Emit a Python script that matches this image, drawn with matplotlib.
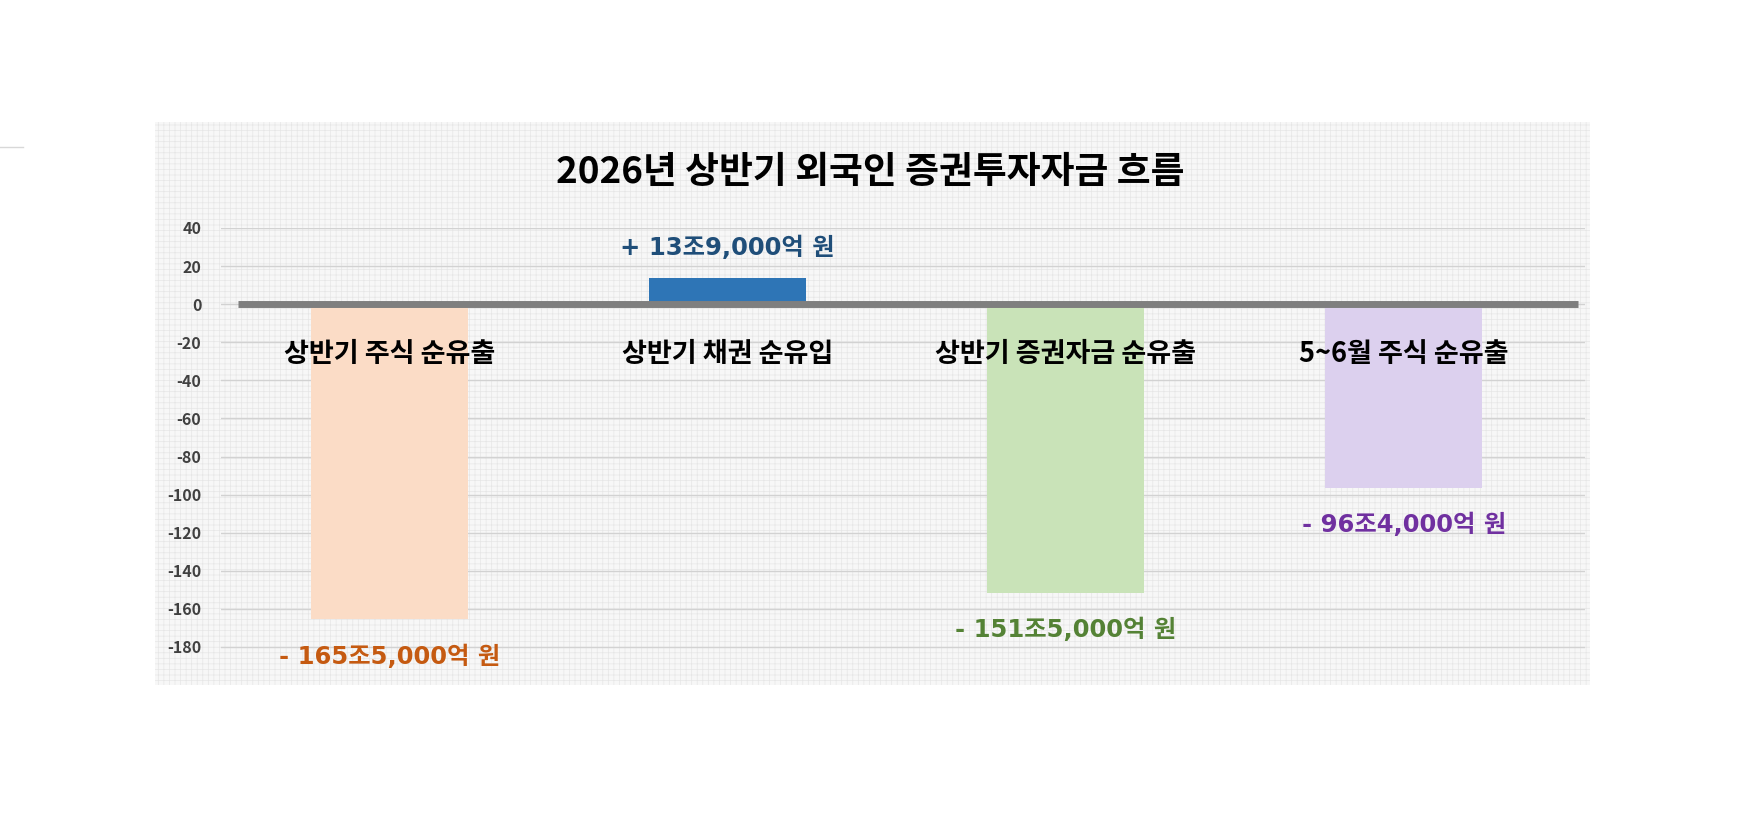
import matplotlib.pyplot as plt
from matplotlib.patches import Rectangle

plt.rcParams['font.family'] = ['Noto Sans CJK KR', 'DejaVu Sans']
plt.rcParams['hatch.linewidth'] = 0.5

# 데이터 (조 원)
categories = ['상반기 주식 순유출', '상반기 채권 순유입', '상반기 증권자금 순유출', '5~6월 주식 순유출']
values = [-165.5, 13.9, -151.5, -96.4]
value_labels = ['- 165조5,000억 원', '+ 13조9,000억 원', '- 151조5,000억 원', '- 96조4,000억 원']
yticks = [40, 20, 0, -20, -40, -60, -80, -100, -120, -140, -160, -180]

bar_colors = ['#FBDCC6', '#2E75B6', '#C9E3B8', '#DCD0EE']
label_colors = ['#C55A11', '#1F4E79', '#548235', '#7030A0']

fig = plt.figure(figsize=(17.52, 8.16), dpi=100)
fig.patch.set_facecolor('white')

# 배경 패널
panel = Rectangle((0.0885, 0.1605), 0.819, 0.690, transform=fig.transFigure,
                  facecolor='#F7F7F7', edgecolor='#E6E6E6', hatch='+++', linewidth=0,
                  zorder=-5)
fig.add_artist(panel)
fig.add_artist(plt.Line2D([0, 0.013], [0.82, 0.82], color='#D8D8D8', lw=1,
                          transform=fig.transFigure))

ax = fig.add_axes([0.126, 0.1838, 0.7785, 0.5368])
ax.set_zorder(2)
ax.set_facecolor('none')
ax.set_xlim(-0.5, 3.535)
ax.set_ylim(-190, 40)

x = list(range(len(categories)))
for yv in yticks:
    ax.axhline(yv, color='#D2D2D2', lw=1, zorder=1)

ax.bar(x, values, width=0.465, color=bar_colors, zorder=2)
ax.hlines(0, -0.45, 3.515, color='#7F7F7F', lw=5, zorder=3)

for i, v in enumerate(values):
    ax.text(x[i], -26, categories[i], ha='center', va='center', fontsize=19.5,
            fontweight='bold', color='black', zorder=4)
    if v >= 0:
        ly = v + 15.5
    else:
        ly = v - 19.5
    ax.text(x[i], ly, value_labels[i], ha='center', va='center', fontsize=17.5,
            fontweight='bold', color=label_colors[i], clip_on=False, zorder=4,
            family=['DejaVu Sans', 'Noto Sans CJK KR'])

ax.set_yticks(yticks)
ax.set_yticklabels([str(t) for t in yticks], fontsize=11.5, fontweight='bold', color='#404040')
ax.set_xticks([])
ax.tick_params(axis='y', length=0, pad=14)
for s in ax.spines.values():
    s.set_visible(False)

fig.text(0.497, 0.788, '2026년 상반기 외국인 증권투자자금 흐름', ha='center', va='center',
         fontsize=26.5, fontweight='heavy', color='black')

fig.savefig('out.png', dpi=100, facecolor='white')
